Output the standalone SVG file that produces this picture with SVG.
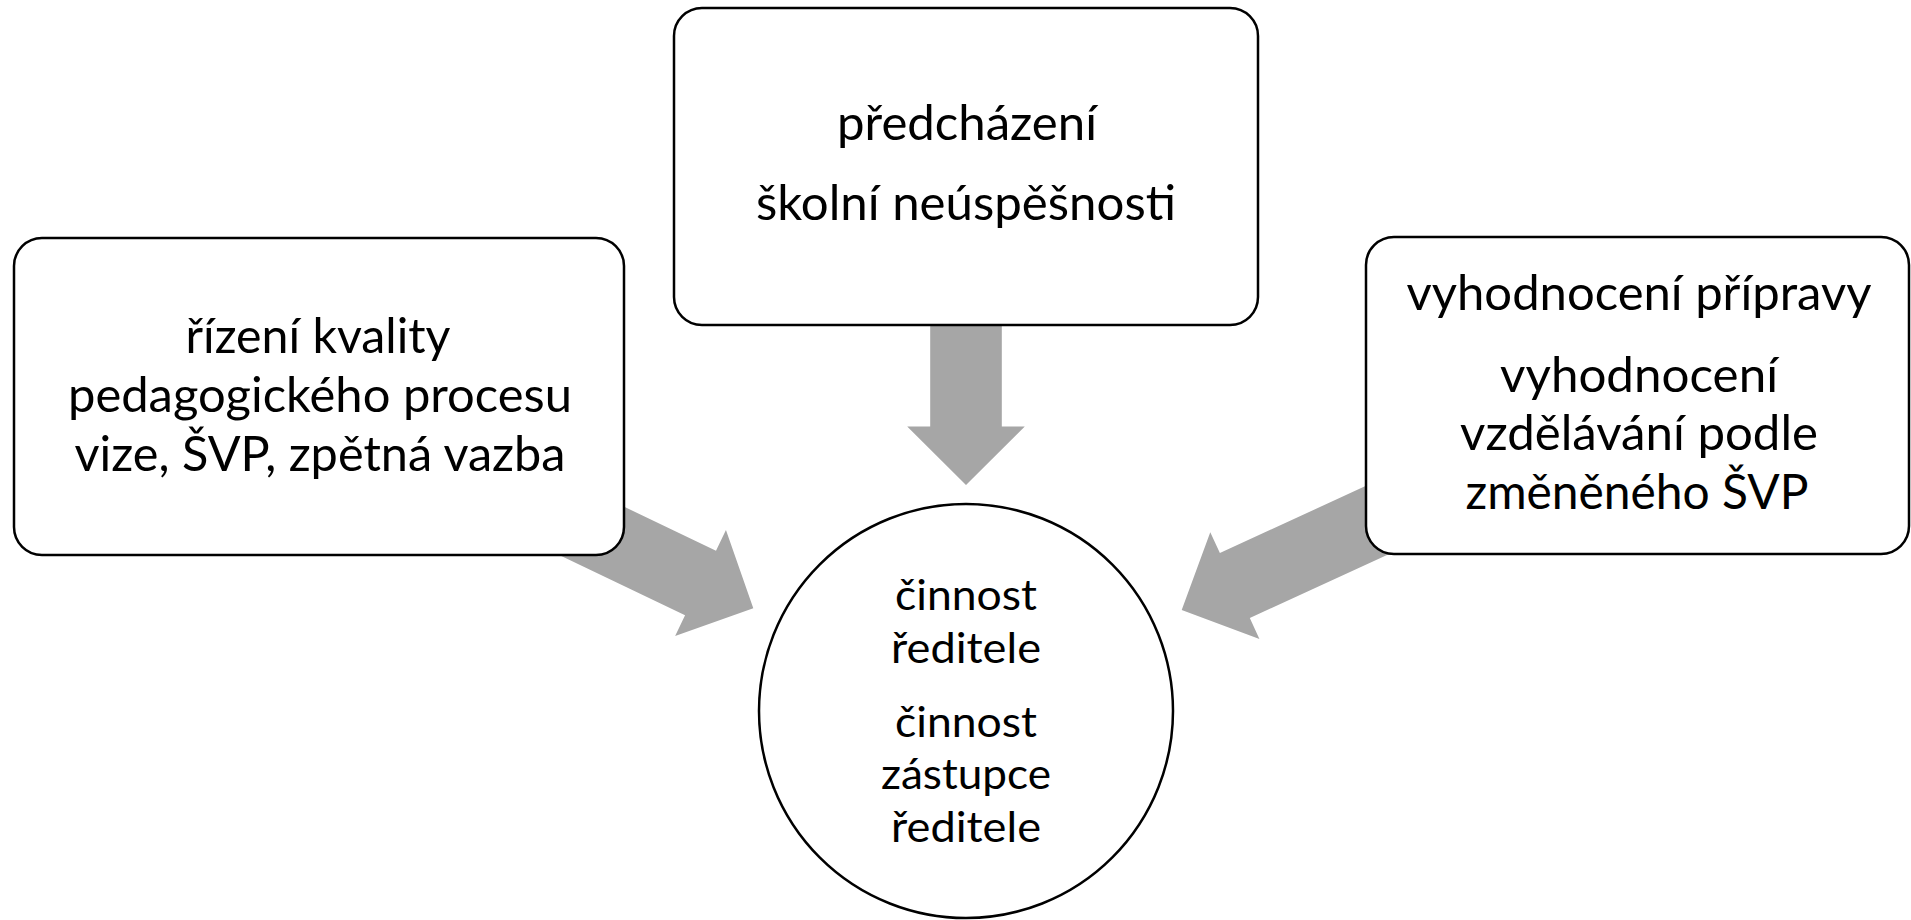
<svg xmlns="http://www.w3.org/2000/svg" width="1911" height="920" viewBox="0 0 1911 920">
  <style>
    .box { fill: #ffffff; stroke: #000000; stroke-width: 2.5; }
    .arrow { fill: #A6A6A6; stroke: none; }
    .t { font-family: Lato, "Open Sans", sans-serif; fill: #000000; text-anchor: middle; }
    .big { font-size: 48px; }
    .small { font-size: 43px; }
  </style>
  <defs>
    <path id="arrowShape" d="M0,0 L-58.5,-58.8 L-58.5,-35.8 L-300,-35.8 L-300,35.8 L-58.5,35.8 L-58.5,58.8 Z"/>
  </defs>
  <rect width="1911" height="920" fill="#ffffff"/>

  <g id="connectors">
    <use href="#arrowShape" class="arrow" transform="translate(966,485) rotate(90)"/>
    <use href="#arrowShape" class="arrow" transform="translate(753.3,608.3) rotate(25.6)"/>
    <use href="#arrowShape" class="arrow" transform="translate(1181.7,610) rotate(155.3)"/>
  </g>

  <g id="node-left">
    <rect class="box" x="14" y="238" width="610" height="317" rx="28" ry="28"/>
    <text class="t big" x="318" y="353" textLength="265" lengthAdjust="spacingAndGlyphs">řízení kvality</text>
    <text class="t big" x="320" y="412" textLength="504" lengthAdjust="spacingAndGlyphs">pedagogického procesu</text>
    <text class="t big" x="320" y="471" textLength="491" lengthAdjust="spacingAndGlyphs">vize, ŠVP, zpětná vazba</text>
  </g>

  <g id="node-top">
    <rect class="box" x="674" y="8" width="584" height="317" rx="28" ry="28"/>
    <text class="t big" x="967" y="140" textLength="260" lengthAdjust="spacingAndGlyphs">předcházení</text>
    <text class="t big" x="966" y="220" textLength="420" lengthAdjust="spacingAndGlyphs">školní neúspěšnosti</text>
  </g>

  <g id="node-right">
    <rect class="box" x="1366" y="237" width="543" height="317" rx="28" ry="28"/>
    <text class="t big" x="1639" y="310" textLength="465" lengthAdjust="spacingAndGlyphs">vyhodnocení přípravy</text>
    <text class="t big" x="1639" y="392" textLength="278" lengthAdjust="spacingAndGlyphs">vyhodnocení</text>
    <text class="t big" x="1639" y="450" textLength="358" lengthAdjust="spacingAndGlyphs">vzdělávání podle</text>
    <text class="t big" x="1637" y="509" textLength="343" lengthAdjust="spacingAndGlyphs">změněného ŠVP</text>
  </g>

  <g id="node-center">
    <circle class="box" cx="966" cy="711" r="207"/>
    <text class="t small" x="966" y="610" textLength="142" lengthAdjust="spacingAndGlyphs">činnost</text>
    <text class="t small" x="966" y="663" textLength="150" lengthAdjust="spacingAndGlyphs">ředitele</text>
    <text class="t small" x="966" y="737" textLength="142" lengthAdjust="spacingAndGlyphs">činnost</text>
    <text class="t small" x="966" y="789" textLength="170" lengthAdjust="spacingAndGlyphs">zástupce</text>
    <text class="t small" x="966" y="842" textLength="150" lengthAdjust="spacingAndGlyphs">ředitele</text>
  </g>
</svg>
